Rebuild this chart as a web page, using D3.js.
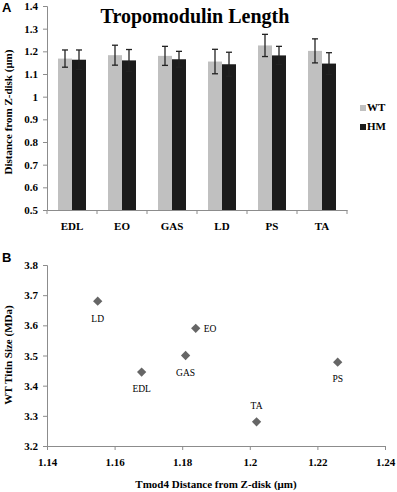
<!DOCTYPE html>
<html>
<head>
<meta charset="utf-8">
<script src="https://cdn.jsdelivr.net/npm/d3@7"></script>
<style>
  body { margin: 0; background: #fff; }
  svg { display: block; }
  svg text { font-family: "Liberation Serif", "DejaVu Serif", "Times New Roman", serif; fill: #000; }
  svg text.sans { font-family: "Liberation Sans", Arial, sans-serif; }
</style>
</head>
<body>
<div id="chart"></div>
<script>
// Panel A data
const muscles = ["EDL", "EO", "GAS", "LD", "PS", "TA"];
const wtLength = [1.168, 1.183, 1.180, 1.155, 1.226, 1.202];
const wtErr = [0.038, 0.044, 0.042, 0.054, 0.049, 0.053];
const hmLength = [1.163, 1.160, 1.165, 1.143, 1.182, 1.146];
const hmErr = [0.043, 0.048, 0.035, 0.053, 0.040, 0.048];
const yTicksA = [0.5, 0.6, 0.7, 0.8, 0.9, 1, 1.1, 1.2, 1.3, 1.4];

// Panel B data
const scatterLabels = ["LD", "EO", "GAS", "EDL", "TA", "PS"];
const tmodDist = [1.155, 1.184, 1.181, 1.168, 1.202, 1.226];
const titinSize = [3.68, 3.59, 3.50, 3.445, 3.28, 3.478];
const xTicksB = [1.14, 1.16, 1.18, 1.2, 1.22, 1.24];
const yTicksB = [3.2, 3.3, 3.4, 3.5, 3.6, 3.7, 3.8];

const w = 397, h = 492;
const axisColor = "#8c8c8c";

const svg = d3.select("#chart").append("svg")
  .attr("width", w).attr("height", h)
  .attr("viewBox", [0, 0, w, h]);

// ---------- Panel A ----------
const xA = d3.scaleBand(muscles, [47, 347]).paddingInner(0).paddingOuter(0);
const yA = d3.scaleLinear([0.5, 1.4], [210, 6]);
const xSub = d3.scaleBand(["WT", "HM"], [0, 28]);
const colors = { WT: "#c0c0c0", HM: "#1c1c1c" };

const bars = muscles.flatMap((m, i) => [
  { m, key: "WT", v: wtLength[i], e: wtErr[i] },
  { m, key: "HM", v: hmLength[i], e: hmErr[i] }
]);

const gA = svg.append("g");
gA.selectAll("rect.bar").data(bars).join("rect")
  .attr("class", "bar")
  .attr("x", d => xA(d.m) + xA.bandwidth() / 2 - 14 + xSub(d.key))
  .attr("y", d => yA(d.v))
  .attr("width", xSub.bandwidth())
  .attr("height", d => yA(0.5) - yA(d.v))
  .attr("fill", d => colors[d.key]);

// error bars
const eb = gA.selectAll("g.err").data(bars).join("g").attr("class", "err")
  .attr("stroke", "#222").attr("stroke-width", 1.3);
const cx = d => xA(d.m) + xA.bandwidth() / 2 - 14 + xSub(d.key) + xSub.bandwidth() / 2;
eb.append("line").attr("x1", cx).attr("x2", cx)
  .attr("y1", d => yA(d.v + d.e)).attr("y2", d => yA(d.v - d.e));
eb.append("line").attr("x1", d => cx(d) - 3).attr("x2", d => cx(d) + 3)
  .attr("y1", d => yA(d.v + d.e)).attr("y2", d => yA(d.v + d.e));
eb.append("line").attr("x1", d => cx(d) - 3).attr("x2", d => cx(d) + 3)
  .attr("y1", d => yA(d.v - d.e)).attr("y2", d => yA(d.v - d.e));

const styleTicks = g => g.selectAll(".tick text")
  .attr("font-family", null).attr("font-weight", "bold").attr("font-size", 11);

// y axis A
gA.append("g").attr("transform", "translate(47,0)")
  .call(d3.axisLeft(yA).tickValues(yTicksA).tickSize(4).tickPadding(5).tickFormat(d3.format("")))
  .attr("font-family", null)
  .call(g => g.selectAll("line, path").attr("stroke", axisColor))
  .call(styleTicks);

// x axis A: ticks at category boundaries
gA.append("g").attr("transform", "translate(0,210)")
  .call(d3.axisBottom(xA).tickSize(0).tickPadding(12))
  .attr("font-family", null)
  .call(g => g.select(".domain").attr("stroke", axisColor))
  .call(styleTicks);
gA.append("g").selectAll("line").data([...muscles.map(m => xA(m)), xA.range()[1]]).join("line")
  .attr("x1", d => d).attr("x2", d => d).attr("y1", 210).attr("y2", 214)
  .attr("stroke", axisColor);

gA.append("text").attr("x", 195).attr("y", 23).attr("text-anchor", "middle")
  .attr("font-size", 20).attr("font-weight", "bold").text("Tropomodulin Length");

gA.append("text").attr("transform", "translate(12,112) rotate(-90)").attr("text-anchor", "middle")
  .attr("font-size", 11).attr("font-weight", "bold").text("Distance from Z-disk (μm)");

gA.append("text").attr("class", "sans").attr("x", 2).attr("y", 12)
  .attr("font-size", 13).attr("font-weight", "bold").text("A");

// legend
const leg = gA.append("g").selectAll("g").data(["WT", "HM"]).join("g")
  .attr("transform", (d, i) => `translate(365,${111 + i * 19})`);
leg.append("rect").attr("x", -5).attr("y", -6).attr("width", 6).attr("height", 6)
  .attr("fill", d => colors[d]);
leg.append("text").attr("x", 2).attr("y", 0).attr("font-size", 11).attr("font-weight", "bold")
  .text(d => d);

// ---------- Panel B ----------
const xB = d3.scaleLinear([1.14, 1.24], [47, 385]);
const yB = d3.scaleLinear([3.2, 3.8], [446, 265]);
const gB = svg.append("g");

gB.append("g").attr("transform", "translate(47,0)")
  .call(d3.axisLeft(yB).tickValues(yTicksB).tickSize(4).tickPadding(5).tickFormat(d3.format("")))
  .attr("font-family", null)
  .call(g => g.selectAll("line, path").attr("stroke", axisColor))
  .call(styleTicks);

gB.append("g").attr("transform", "translate(0,446)")
  .call(d3.axisBottom(xB).tickValues(xTicksB).tickSize(4).tickPadding(8).tickFormat(d3.format("")))
  .attr("font-family", null)
  .call(g => g.selectAll("line, path").attr("stroke", axisColor))
  .call(styleTicks);

const pts = scatterLabels.map((l, i) => ({ l, x: tmodDist[i], y: titinSize[i] }));
gB.selectAll("path.pt").data(pts).join("path").attr("class", "pt")
  .attr("transform", d => `translate(${xB(d.x)},${yB(d.y)})`)
  .attr("d", d3.symbol(d3.symbolDiamond2, 55))
  .attr("fill", "#666");

const labelOffset = { LD: [0, 21, "middle"], EO: [8, 4, "start"], GAS: [0, 20, "middle"],
  EDL: [0, 20, "middle"], TA: [0, -13, "middle"], PS: [0, 20, "middle"] };
gB.selectAll("text.lbl").data(pts).join("text").attr("class", "lbl")
  .attr("x", d => xB(d.x) + labelOffset[d.l][0])
  .attr("y", d => yB(d.y) + labelOffset[d.l][1])
  .attr("text-anchor", d => labelOffset[d.l][2])
  .attr("font-size", 9.5).text(d => d.l);

gB.append("text").attr("x", 216).attr("y", 488).attr("text-anchor", "middle")
  .attr("font-size", 11).attr("font-weight", "bold").text("Tmod4 Distance from Z-disk (μm)");

gB.append("text").attr("transform", "translate(12,355) rotate(-90)").attr("text-anchor", "middle")
  .attr("font-size", 11).attr("font-weight", "bold").text("WT Titin Size (MDa)");

gB.append("text").attr("class", "sans").attr("x", 2).attr("y", 262)
  .attr("font-size", 13).attr("font-weight", "bold").text("B");
</script>
</body>
</html>
